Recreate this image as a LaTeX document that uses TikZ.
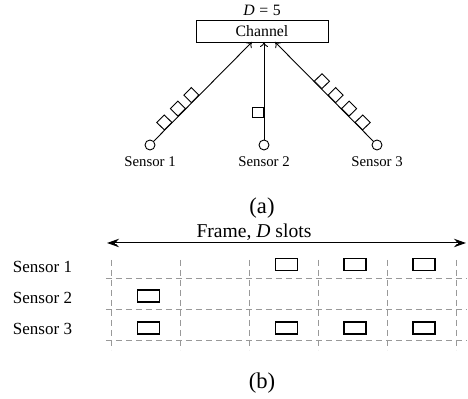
\documentclass[tikz,border=0pt]{standalone}
\usepackage{fontspec}
\setmainfont{Liberation Serif}
\usetikzlibrary{arrows.meta}
\begin{document}
\begin{tikzpicture}[x=0.5pt,y=-0.5pt,
  sensor/.style={draw, circle, minimum size=5pt, inner sep=0pt, line width=0.45pt},
  sqbox/.style={draw, fill=white, minimum size=5.3pt, inner sep=0pt, line width=0.45pt},
  slotbox/.style={draw, minimum width=11pt, minimum height=6pt, inner sep=0pt, line width=0.6pt},
  gridline/.style={black!40, dash pattern=on 3pt off 2pt, line width=0.45pt},
  conn/.style={-{To[length=2.5pt,width=4pt]}, line width=0.45pt},
  small/.style={font=\fontsize{7.4}{8}\selectfont},
  rowlbl/.style={font=\fontsize{8.5}{10}\selectfont},
  captext/.style={font=\fontsize{11.3}{13}\selectfont},
  chan/.style={draw, line width=0.45pt, minimum width=66pt, minimum height=11pt, inner sep=0pt, font=\fontsize{7.9}{9}\selectfont},
  framearrow/.style={{Stealth[length=6pt,width=4.2pt]}-{Stealth[length=6pt,width=4.2pt]}, line width=1.3pt},
  frameinner/.style={white, line width=0.45pt, shorten <=4pt, shorten >=4pt}
]
\useasboundingbox (0,0) rectangle (468,399);

% ---------- (a) ----------
\node[chan] (ch) at (262,31) {Channel};
\node[font=\fontsize{7.9}{9}\selectfont] (dd) at (262,10.5) {\textit{D}\hspace{2.3pt}=\hspace{2.3pt}5};

\coordinate (e1) at (252,42);
\coordinate (e2) at (264,42);
\coordinate (e3) at (275,42);

\node[sensor] (s1) at (150,145) {};
\node[sensor] (s2) at (264,145) {};
\node[sensor] (s3) at (377,145) {};

\node[small] (l1) at (150,162) {Sensor 1};
\node[small] (l2) at (264,162) {Sensor 2};
\node[small] (l3) at (377,162) {Sensor 3};

\draw[conn] (s1) -- (e1);
\draw[conn] (s2) -- (e2);
\draw[conn] (s3) -- (e3);

\path (s1.center) -- (e1)
  node[sqbox, sloped, anchor=south, pos=0.18] (p11) {}
  node[sqbox, sloped, anchor=south, pos=0.314] (p12) {}
  node[sqbox, sloped, anchor=south, pos=0.445] (p13) {};
\path (s2.center) -- (e2)
  node[sqbox, anchor=east, pos=0.316] (p21) {};
\path (s3.center) -- (e3)
  node[sqbox, sloped, anchor=south, pos=0.18] (p31) {}
  node[sqbox, sloped, anchor=south, pos=0.314] (p32) {}
  node[sqbox, sloped, anchor=south, pos=0.445] (p33) {}
  node[sqbox, sloped, anchor=south, pos=0.58] (p34) {};

\node[captext] (capa) at (262,208) {(a)};

% ---------- (b) ----------
\coordinate (fl) at (107,243);
\coordinate (fr) at (466,243);
\draw[framearrow] (fl) -- (fr);
\draw[frameinner] (fl) -- (fr);
\node[font=\fontsize{9.8}{11}\selectfont] (ft) at (254,232) {Frame, \textit{D} slots};

\foreach \x in {111.5,180.5,249.5,318.5,387.5,456.5}
  \draw[gridline] (\x,260) -- (\x,350);
\foreach \y in {278,309,340}
  \draw[gridline] (106,\y) -- (467,\y);

\node[rowlbl] (r1) at (42.5,267) {Sensor 1};
\node[rowlbl] (r2) at (42.5,298) {Sensor 2};
\node[rowlbl] (r3) at (42.5,329) {Sensor 3};

\node[slotbox] (b14) at (286.7,264.5) {};
\node[slotbox] (b15) at (355,264.5) {};
\node[slotbox] (b16) at (424,264.5) {};
\node[slotbox] (b21) at (148.8,296) {};
\node[slotbox] (b31) at (148.8,328) {};
\node[slotbox] (b34) at (286.7,328) {};
\node[slotbox] (b35) at (355,328) {};
\node[slotbox] (b36) at (424,328) {};

\node[captext] (capb) at (262,383) {(b)};
\end{tikzpicture}
\end{document}
